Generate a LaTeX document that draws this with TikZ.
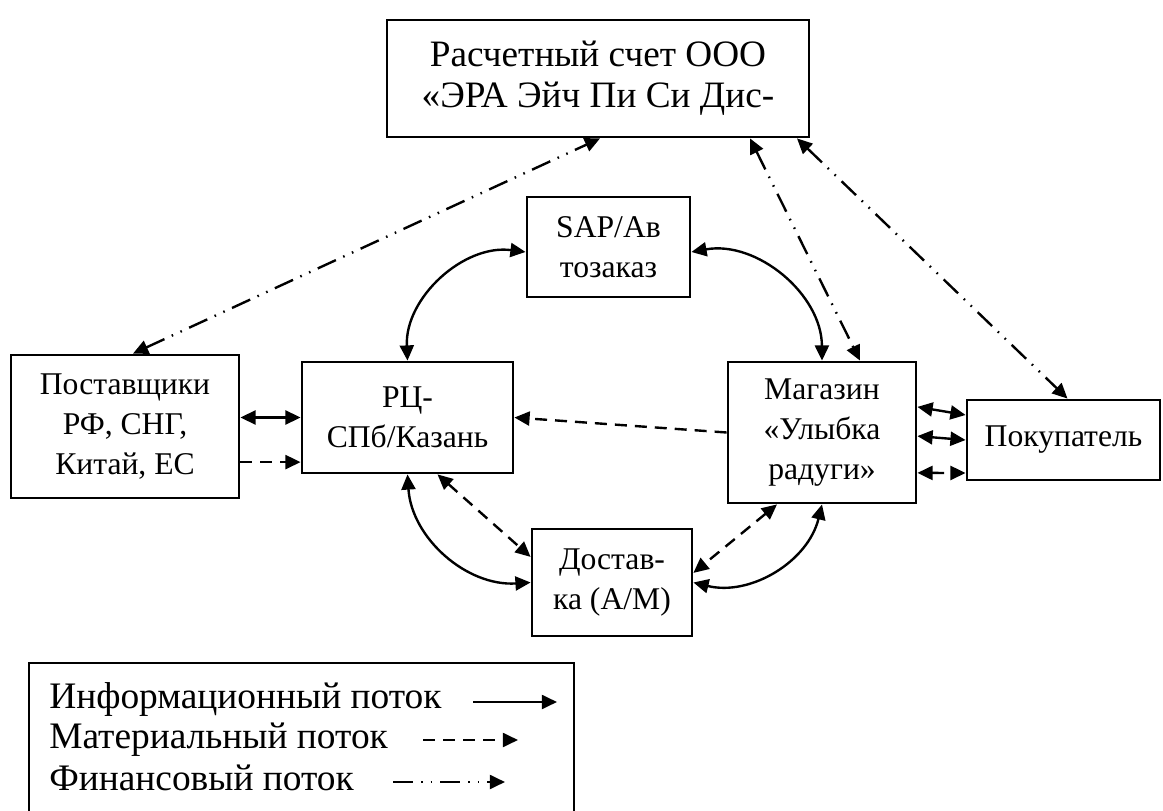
\documentclass[tikz,border=0pt]{standalone}
\usepackage{fontspec}
\setmainfont{Liberation Serif}
\usetikzlibrary{arrows.meta}
\begin{document}
\begin{tikzpicture}[x=0.25mm,y=-0.25mm,>={Triangle[length=3.8mm,width=3.5mm]},
 box/.style={draw,line width=2pt,align=center,inner sep=0pt,font=\fontsize{22.5}{28.5}\selectfont},
 legtext/.style={anchor=base west,inner sep=0pt,font=\fontsize{26.6}{30}\selectfont},
 info/.style={line width=1.7pt},
 mat/.style={line width=1.7pt,dash pattern=on 3mm off 2mm},
 fin/.style={line width=1.7pt,dash pattern=on 5mm off 2mm on 0.4mm off 2mm on 0.4mm off 2mm}]
 \useasboundingbox (0,0) rectangle (1163,811);
 \node[box,minimum width=105.5mm,minimum height=29.25mm,font=\fontsize{26.5}{29}\selectfont] (acc) at (598,78.5) {Расчетный счет ООО\\«ЭРА Эйч Пи Си Дис-};
 \node[box,minimum width=40.75mm,minimum height=25mm] (sap) at (608.5,247) {SAP/Ав\\тозаказ};
 \node[box,minimum width=57mm,minimum height=35.75mm] (sup) at (125,426.5) {Поставщики\\РФ, СНГ,\\Китай, ЕС};
 \node[box,minimum width=52.75mm,minimum height=27.75mm] (rc) at (407.5,417.5) {РЦ-\\СПб/Казань};
 \node[box,minimum width=47mm,minimum height=35.25mm] (shop) at (822,432.5) {Магазин\\«Улыбка\\радуги»};
 \node[box,minimum width=48.25mm,minimum height=20mm] (buyer) at (1063.5,440) {Покупатель};
 \node[box,minimum width=40mm,minimum height=26.75mm] (deliv) at (612,582.5) {Достав-\\ка (А/М)};

 \draw[fin,<->] ([xshift=2mm]sup.north) -- ([xshift=0.5mm]acc.south);
 \draw[fin,<->] ([xshift=38mm]acc.south) -- ([xshift=9.5mm]shop.north);
 \draw[fin,<->] ([xshift=49.75mm]acc.south) -- ([xshift=1mm]buyer.north);
 \draw[info,<->] ([yshift=-1.25mm]sap.west) to[bend right=50] (rc.north);
 \draw[info,<->] ([yshift=-1.25mm]sap.east) to[bend left=50] (shop.north);
 \draw[mat,->] (shop.west) -- (rc.east);
 \draw[info,<->] (sup.east |- rc.west) -- (rc.west);
 \draw[mat,->] ([yshift=-8.9mm]sup.east) -- ([yshift=-8.9mm]sup.east -| rc.west);
 \draw[fin,<->] ([yshift=6.4mm]shop.east) -- ([yshift=6.25mm]buyer.west);
 \draw[info,<->] ([yshift=-0.9mm]shop.east) -- (buyer.west);
 \draw[mat,<->] ([yshift=-10.1mm]shop.east) -- ([yshift=-8.25mm]buyer.west);
 \draw[info,<->] (rc.south) to[bend right=45] (deliv.west);
 \draw[mat,<->] ([xshift=7.5mm]rc.south) -- ([yshift=6.4mm]deliv.west);
 \draw[mat,<->] ([xshift=-11.25mm]shop.south) -- ([yshift=2.4mm]deliv.east);
 \draw[info,<->] (shop.south) to[bend left=45] (deliv.east);

 \draw[line width=1pt] (29,811) -- (29,663) -- (574,663) -- (574,811);
 \node[legtext] (linfo) at (49,708) {Информационный поток};
 \node[legtext] (lmat) at (49,748) {Материальный поток};
 \node[legtext] (lfin) at (49,790) {Финансовый поток};
 \coordinate (i1) at (473,702); \coordinate (i2) at (557,702);
 \coordinate (m1) at (423,740); \coordinate (m2) at (518,740);
 \coordinate (f1) at (393,782); \coordinate (f2) at (505,782);
 \draw[info,->] (i1) -- (i2);
 \draw[mat,->] (m1) -- (m2);
 \draw[fin,->] (f1) -- (f2);
\end{tikzpicture}
\end{document}
